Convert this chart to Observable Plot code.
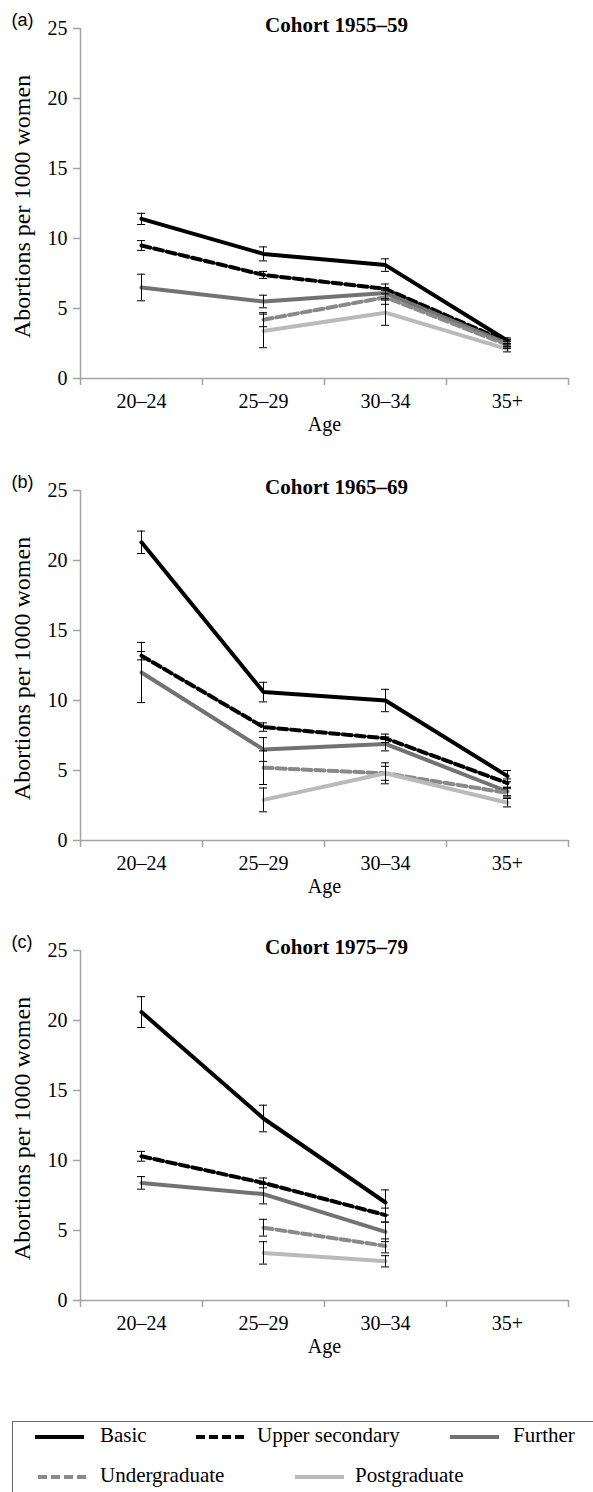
<!DOCTYPE html>
<html>
<head>
<meta charset="utf-8">
<script src="https://cdn.jsdelivr.net/npm/d3@7"></script>
<script src="https://cdn.jsdelivr.net/npm/@observablehq/plot@0.6"></script>
<style>
  html, body { margin: 0; padding: 0; background: #fff; }
  body { width: 593px; height: 1492px; overflow: hidden; position: relative; font-family: "Liberation Serif", "Times New Roman", serif; }
  .panel { position: absolute; left: 0; }
  .panel svg { display: block; overflow: visible; }
  .panel svg text { font-family: "Liberation Serif", "Times New Roman", serif; }
  .panel svg text.tag { font-family: "Liberation Sans", Arial, sans-serif; }
  #legend { position: absolute; left: 12px; top: 1421px; width: 640px; height: 120px; border: 1px solid #666; box-sizing: border-box; }
  .sw { position: absolute; }
  .lt { position: absolute; font-size: 21px; line-height: 1; white-space: nowrap; color: #000; }
</style>
</head>
<body>
<div id="root"></div>
<div id="legend"></div>
<script>
// ---- data ----
const ages = ["20–24", "25–29", "30–34", "35+"];
const series = ["Basic", "Upper secondary", "Further", "Undergraduate", "Postgraduate"];
const cohorts = ["Cohort 1955–59", "Cohort 1965–69", "Cohort 1975–79"];
const panelTags = ["(a)", "(b)", "(c)"];
const yTicks = [0, 5, 10, 15, 20, 25];
const yLabel = "Abortions per 1000 women";
const xLabel = "Age";

// rows: series (in order above), columns: ages
const rates1955 = [
  [11.4, 8.9, 8.1, 2.7],
  [9.5, 7.4, 6.4, 2.6],
  [6.5, 5.5, 6.1, 2.5],
  [null, 4.2, 5.8, 2.4],
  [null, 3.4, 4.7, 2.1]
];
const errors1955 = [
  [0.4, 0.5, 0.45, 0.2],
  [0.35, 0.25, 0.35, 0.2],
  [0.95, 0.45, 0.4, 0.25],
  [null, 0.5, 0.5, 0.25],
  [null, 1.2, 0.9, 0.2]
];
const rates1965 = [
  [21.3, 10.6, 10.0, 4.6],
  [13.2, 8.1, 7.3, 4.1],
  [12.0, 6.5, 6.9, 3.5],
  [null, 5.2, 4.8, 3.4],
  [null, 2.9, 4.8, 2.7]
];
const errors1965 = [
  [0.8, 0.7, 0.8, 0.4],
  [0.3, 0.3, 0.3, 0.3],
  [2.15, 0.85, 0.5, 0.3],
  [null, 1.2, 0.5, 0.3],
  [null, 0.85, 0.75, 0.3]
];
const rates1975 = [
  [20.6, 13.0, 7.0, null],
  [10.3, 8.4, 6.1, null],
  [8.4, 7.6, 4.9, null],
  [null, 5.2, 3.9, null],
  [null, 3.4, 2.8, null]
];
const errors1975 = [
  [1.1, 0.95, 0.9, null],
  [0.35, 0.35, 0.5, null],
  [0.45, 0.7, 0.7, null],
  [null, 0.6, 0.5, null],
  [null, 0.8, 0.4, null]
];
const ratesByCohort = [rates1955, rates1965, rates1975];
const errorsByCohort = [errors1955, errors1965, errors1975];

// ---- styles ----
const seriesStyle = {
  "Basic": { color: "#000000", dash: null },
  "Upper secondary": { color: "#000000", dash: "9,4" },
  "Further": { color: "#727272", dash: null },
  "Undergraduate": { color: "#898989", dash: "9,4" },
  "Postgraduate": { color: "#bababa", dash: null }
};
const serif = "Liberation Serif, Times New Roman, serif";
const axisGray = "#a3a3a3";
const W = 593, ML = 80, MR = 25, MT = 28, MB = 84, H = 462;
const panelTops = [0, 462, 922];
const bw = (W - ML - MR) / ages.length;
const capHalf = 4;

function makePanel(i) {
  const vals = ratesByCohort[i], errs = errorsByCohort[i];
  const rows = [];
  series.forEach((s, si) => ages.forEach((a, ai) => {
    const v = vals[si][ai];
    if (v == null) return;
    const e = errs[si][ai];
    rows.push({ series: s, age: a, value: v, lo: v - e, hi: v + e });
  }));
  const marks = [
    Plot.ruleY([0], { stroke: axisGray, strokeWidth: 1.5 }),
    Plot.ruleX([ages[0]], { y1: 0, y2: 25, dx: -bw / 2, stroke: axisGray, strokeWidth: 1.5 }),
    Plot.axisX({ tickSize: 7, tickFormat: () => "", dx: -bw / 2, stroke: axisGray, strokeWidth: 1.5, label: null }),
    Plot.axisX([ages[ages.length - 1]], { tickSize: 7, tickFormat: () => "", dx: bw / 2, stroke: axisGray, strokeWidth: 1.5, label: null }),
    Plot.axisX({ tickSize: 0, tickPadding: 15, fontSize: 20, fontFamily: serif, fill: "#000", label: null }),
    Plot.axisY(yTicks, { tickSize: 7, tickPadding: 6, fontSize: 20, fontFamily: serif, stroke: axisGray, strokeWidth: 1.5, fill: "#000", label: null }),
    ...series.map(s => Plot.line(rows.filter(r => r.series === s), {
      x: "age", y: "value",
      stroke: seriesStyle[s].color, strokeWidth: 4,
      strokeDasharray: seriesStyle[s].dash, strokeLinejoin: "round"
    })),
    Plot.ruleX(rows, { x: "age", y1: "lo", y2: "hi", stroke: "#000", strokeWidth: 1 }),
    Plot.tickY(rows, { x: "age", y: "lo", insetLeft: bw / 2 - capHalf, insetRight: bw / 2 - capHalf, stroke: "#000", strokeWidth: 1 }),
    Plot.tickY(rows, { x: "age", y: "hi", insetLeft: bw / 2 - capHalf, insetRight: bw / 2 - capHalf, stroke: "#000", strokeWidth: 1 }),
    Plot.text([cohorts[i]], { frameAnchor: "top", lineAnchor: "bottom", dx: 12, dy: 3, fontSize: 21, fontWeight: "bold", fontFamily: serif, fill: "#000" }),
    Plot.text([panelTags[i]], { frameAnchor: "top-left", textAnchor: "start", lineAnchor: "bottom", dx: -69, dy: -3, fontSize: 18, fontFamily: "Liberation Sans, Arial, sans-serif", fill: "#000", className: "tag" }),
    Plot.text([yLabel], { frameAnchor: "left", textAnchor: "middle", lineAnchor: "middle", rotate: -90, dx: -58, dy: 3, fontSize: 24, fontFamily: serif, fill: "#000" }),
    Plot.text([xLabel], { frameAnchor: "bottom", lineAnchor: "top", dy: 38, fontSize: 20, fontFamily: serif, fill: "#000" })
  ];
  const svg = Plot.plot({
    width: W, height: H,
    marginLeft: ML, marginRight: MR, marginTop: MT, marginBottom: MB,
    x: { type: "band", domain: ages, padding: 0 },
    y: { domain: [0, 25] },
    style: { fontFamily: serif, fontSize: "20px", background: "transparent", overflow: "visible" },
    marks
  });
  // panel tag keeps its sans face
  d3.select(svg).selectAll("text").filter(function () { return panelTags.includes(this.textContent); }).classed("tag", true);
  return svg;
}

const root = document.getElementById("root");
cohorts.forEach((c, i) => {
  const div = document.createElement("div");
  div.className = "panel";
  div.style.top = panelTops[i] + "px";
  div.appendChild(makePanel(i));
  root.appendChild(div);
});

// ---- legend ----
const legendItems = [
  { s: "Basic", sx: 35, tx: 100, row: 0 },
  { s: "Upper secondary", sx: 196, tx: 257, row: 0 },
  { s: "Further", sx: 450, tx: 513, row: 0 },
  { s: "Undergraduate", sx: 38, tx: 100, row: 1 },
  { s: "Postgraduate", sx: 295, tx: 355, row: 1 }
];
const legendTop = 1421, rowCenters = [1437, 1477];
const legend = document.getElementById("legend");
legendItems.forEach(it => {
  const st = seriesStyle[it.s];
  const cy = rowCenters[it.row] - legendTop - 1;
  const svg = d3.create("svg").attr("class", "sw").attr("width", 50).attr("height", 10)
    .style("left", (it.sx - 13) + "px").style("top", (cy - 5) + "px");
  svg.append("line").attr("x1", 0).attr("x2", 49).attr("y1", 5).attr("y2", 5)
    .attr("stroke", st.color).attr("stroke-width", 4)
    .attr("stroke-dasharray", st.dash);
  legend.appendChild(svg.node());
  const t = document.createElement("div");
  t.className = "lt";
  t.textContent = it.s;
  t.style.left = (it.tx - 13) + "px";
  t.style.top = (cy - 12) + "px";
  legend.appendChild(t);
});
</script>
</body>
</html>
